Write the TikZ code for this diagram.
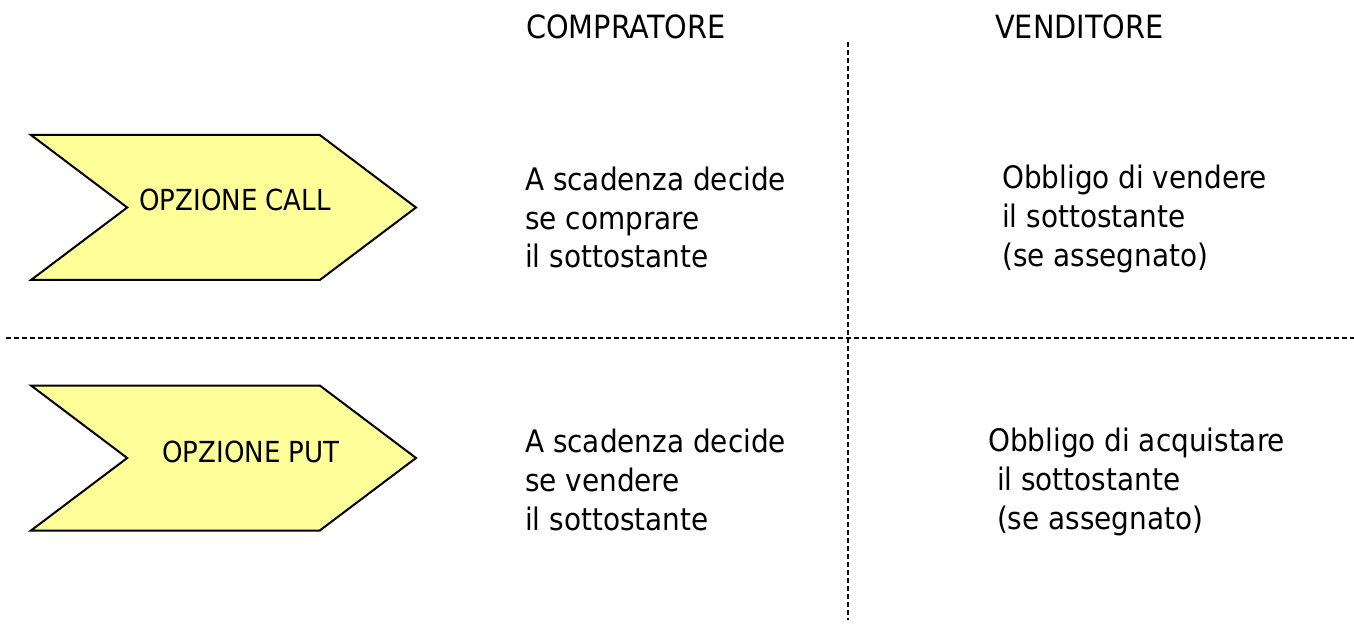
\documentclass[tikz,border=0pt]{standalone}
\usepackage{fontspec}
\setmainfont{DejaVu Sans Condensed}
\usepackage{xcolor}
\usetikzlibrary{positioning,shapes.symbols}
\definecolor{chevyellow}{HTML}{FFFF99}

\begin{document}
\begin{tikzpicture}[x=1pt,y=-1pt,
    chevron/.style={draw, fill=chevyellow, line width=2pt, shape=signal, signal from=west, signal to=east, signal pointer angle=74, minimum width=385pt, minimum height=145pt, inner sep=0pt},
    head/.style={font=\fontsize{32}{38}\selectfont, anchor=base west, inner sep=0pt},
    body/.style={font=\fontsize{31}{38.7}\selectfont, align=left, anchor=base west, inner sep=0pt},
    optlabel/.style={font=\fontsize{29}{34}\selectfont, anchor=base west, inner sep=0pt},
    divider/.style={line width=2pt, dash pattern=on 5pt off 3pt}]
        \useasboundingbox (0,0) rectangle (1354,628);

        % column heads
        \node[head] (buyer) at (526,39) {COMPRATORE};
        \node[head] (seller) at (995,39) {VENDITORE};

        % the two options
        \node[chevron] (call) at (223.5,207.5) {};
        \node[optlabel] (calltext) at (139,211) {OPZIONE CALL};
        \node[chevron] (put) at (223.5,458) {};
        \node[optlabel] (puttext) at (162,462) {OPZIONE PUT};

        % rights and duties (placed at the baseline of the last line)
        \node[body] (callbuyer) at (525,268) {A scadenza decide\\se comprare\\il sottostante};
        \node[body] (callseller) at (1002,266) {Obbligo di vendere\\il sottostante\\(se assegnato)};
        \node[body] (putbuyer) at (525,530) {A scadenza decide\\se vendere\\il sottostante};
        \node[body] (putseller) at (988,529) {Obbligo di acquistare\\~il sottostante\\~(se assegnato)};

        % grid lines
        \coordinate (vtop) at (848,42);
        \coordinate (vbot) at (848,620);
        \coordinate (hleft) at (6,338);
        \coordinate (hright) at (1354,338);
        \draw[divider] (vtop) -- (vbot);
        \draw[divider] (hleft) -- (hright);
\end{tikzpicture}
\end{document}
